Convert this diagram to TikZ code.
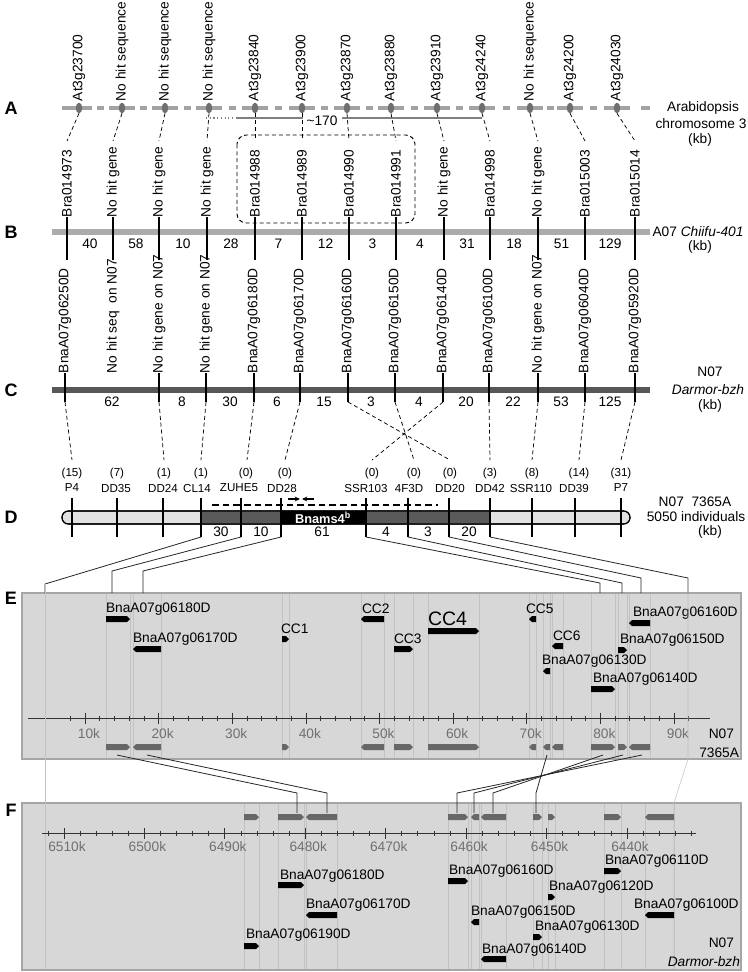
\documentclass[tikz,border=0pt]{standalone}
\usepackage{fontspec}
\setmainfont{Liberation Sans}
\usetikzlibrary{shapes.geometric,arrows.meta}
\definecolor{alinec}{HTML}{A3A3A3}
\definecolor{mkc}{HTML}{6E6E6E}
\definecolor{bbarc}{HTML}{ABABAB}
\definecolor{cbarc}{HTML}{575757}
\definecolor{dlight}{HTML}{E2E2E2}
\definecolor{ddark}{HTML}{5A5A5A}
\definecolor{panelc}{HTML}{D7D7D7}
\definecolor{paneledge}{HTML}{A6A6A6}
\definecolor{gblock}{HTML}{676767}
\definecolor{ticklab}{HTML}{707070}
\definecolor{faint}{HTML}{C2C2C2}
\newcommand{\gbR}[4]{\fill[#4] (#1,#3-3) -- (#2-3,#3-3) -- (#2,#3) -- (#2-3,#3+3) -- (#1,#3+3) -- cycle;}
\newcommand{\gbL}[4]{\fill[#4] (#1+3,#3-3) -- (#2,#3-3) -- (#2,#3+3) -- (#1+3,#3+3) -- (#1,#3) -- cycle;}
\begin{document}
\begin{tikzpicture}[x=0.75pt,y=-0.75pt,
  every node/.style={inner sep=0pt,outer sep=0pt},
  lab/.style={font=\fontsize{10.3}{12}\selectfont},
  rlab/.style={lab,rotate=90,anchor=west},
  sml/.style={font=\fontsize{8.7}{10}\selectfont},
  panlet/.style={font=\fontsize{13.5}{15}\selectfont\bfseries},
  mk/.style={ellipse,fill=mkc,minimum width=4.8pt,minimum height=8pt},
  dsh/.style={dash pattern=on 3pt off 2.2pt,line width=0.55pt},
  tk/.style={line width=1.1pt},
  conn/.style={line width=0.6pt,black!85},
  fline/.style={line width=0.4pt,faint},
  glab/.style={lab,anchor=west},
  axl/.style={lab,text=ticklab},
]
\useasboundingbox (0,0) rectangle (747,972);

% ---------- panel letters
\node[panlet] (pA) at (11,108) {A};
\node[panlet] (pB) at (11,232) {B};
\node[panlet] (pC) at (11,390) {C};
\node[panlet] (pD) at (11,517) {D};
\node[panlet] (pE) at (11,598) {E};
\node[panlet] (pF) at (11,810) {F};

% ---------- row A line (dash-dot)
\draw[alinec,line width=3pt] (62,108) -- (92,108);
\foreach \x in {122,165,209,255,302,347,391,437,482,530,570,617}
  \draw[alinec,line width=3pt] (\x-13,108) -- (\x+13,108);
\foreach \x in {100.5,143.5,187,232,278.5,324.5,369,414,459.5,506,550,593.5}
  \draw[alinec,line width=3pt] (\x-3.5,108) -- (\x+3.5,108);
\draw[alinec,line width=3pt] (641,108) -- (650,108);

% ---------- ~170 line
\coordinate (r1) at (206,118);
\coordinate (r2) at (237,118);
\coordinate (r3) at (303,118);
\coordinate (r4) at (342,118);
\coordinate (r5) at (482,118);
\node[lab] (t170) at (322,121) {\textasciitilde170};
\draw[gray,line width=0.8pt,dotted] (r1) -- (r2);
\draw[gray,line width=0.8pt] (r2) -- (r3);
\draw[gray,line width=0.8pt] (r4) -- (r5);

% ---------- B bar (under ticks)
\coordinate (bl) at (52,232);
\coordinate (br) at (650,232);
\draw[bbarc,line width=5pt] (bl) -- (br);

% ---------- markers, labels A and B, dashed links
\foreach \i/\xa/\xb/\ta/\tb in {
1/79/67/At3g23700/Bra014973,
2/122/113/No hit sequence/No hit gene,
3/165/159/No hit sequence/No hit gene,
4/209/207/No hit sequence/No hit gene,
5/255/255/At3g23840/Bra014988,
6/302/302/At3g23900/Bra014989,
7/347/349/At3g23870/Bra014990,
8/391/396/At3g23880/Bra014991,
9/437/444/At3g23910/No hit gene,
10/482/490/At3g24240/Bra014998,
11/530/538/No hit sequence/No hit gene,
12/570/585/At3g24200/Bra015003,
13/617/635/At3g24030/Bra015014}{
  \node[mk] (am\i) at (\xa,108) {};
  \node[rlab] (la\i) at (\xa,101) {\ta};
  \node[rlab] (lb\i) at (\xb,217) {\tb};
  \coordinate (bt\i) at (\xb,141);
  \coordinate (bb\i) at (\xb,260);
  \draw[dsh] (am\i.south) -- (bt\i);
  \draw[tk] (lb\i.west) -- (bb\i);
}
\draw[dsh,line width=0.7pt,rounded corners=7pt] (237,135) rectangle (415,223);

\node[lab] (ra1) at (703,108) {Arabidopsis};
\node[lab] (ra2) at (701,124) {chromosome 3};
\node[lab] (ra3) at (700,140) {(kb)};

\foreach \x/\n in {90/40,136/58,183/10,231/28,278.5/7,325.5/12,372.5/3,420/4,467/31,514/18,561.5/51,610/129}
  \node[lab] (bn\n x\x) at (\x,244) {\n};
\node[lab] (rb1) at (698,232) {A07 \textit{Chiifu-401}};
\node[lab] (rb2) at (700,247) {(kb)};

% ---------- C row
\coordinate (cl) at (52,390);
\coordinate (cr) at (650,390);
\draw[cbarc,line width=5.2pt] (cl) -- (cr);
\node[rlab] (lc2) at (113,373) {No hit seq\ \ on N07};
\foreach \i/\x/\t/\xd in {
1/65/BnaA07g06250D/72,
3/159/No hit gene on N07/164,
4/206/No hit gene on N07/201,
5/254/BnaA07g06180D/247,
6/300/BnaA07g06170D/285,
7/348/BnaA07g06160D/450,
8/395/BnaA07g06150D/414,
9/443/BnaA07g06140D/372,
10/489/BnaA07g06100D/490,
11/538/No hit gene on N07/532,
12/585/BnaA07g06040D/579,
13/635/BnaA07g05920D/621}{
  \node[rlab] (lc\i) at (\x,373) {\t};
  \coordinate (cb\i) at (\x,402);
  \coordinate (dq\i) at (\xd,460);
  \draw[tk] (lc\i.west) -- (cb\i);
  \draw[dsh] (cb\i) -- (dq\i);
}
\foreach \x/\n in {112/62,182/8,230/30,277/6,324/15,371/3,419/4,466/20,513/22,561/53,610/125}
  \node[lab] (cn\n x\x) at (\x,402) {\n};
\node[lab] (rc1) at (710,372) {N07};
\node[lab] (rc2) at (708,390) {\textit{Darmor-bzh}};
\node[lab] (rc3) at (710,406) {(kb)};

% ---------- D row
\draw[line width=0.8pt,fill=dlight,rounded corners=4.8pt] (62,511) rectangle (630,524);
\fill[ddark] (201,511.4) rectangle (490,523.6);
\fill[black] (281,511.4) rectangle (366,523.6);
\draw[line width=0.8pt,rounded corners=4.8pt] (62,511) rectangle (630,524);
\node[font=\fontsize{9.6}{11}\selectfont\bfseries,text=white] (bnams) at (323,517.5) {Bnams4\textsuperscript{b}};
\coordinate (dl1) at (212,505);
\coordinate (dl2) at (438,505);
\draw[dash pattern=on 5pt off 3pt,line width=0.85pt] (dl1) -- (dl2);
\coordinate (p1a) at (288,499);
\coordinate (p1b) at (300,499);
\coordinate (p2a) at (314,499);
\coordinate (p2b) at (302,499);
\draw[-{Stealth[length=4pt,width=3.6pt]},line width=0.8pt] (p1a) -- (p1b);
\draw[-{Stealth[length=4pt,width=3.6pt]},line width=0.8pt] (p2a) -- (p2b);

\foreach \i/\c/\nm/\xc/\xn/\xt in {
1/(15)/P4/72/72/72,
2/(7)/DD35/117/116/117,
3/(1)/DD24/164/163/163,
4/(1)/CL14/201/197/201,
5/(0)/ZUHE5/246/239/241,
6/(0)/DD28/285/282/281,
7/(0)/SSR103/372/366/366,
8/(0)/4F3D/414/409/408,
9/(0)/DD20/450/450/449,
10/(3)/DD42/490/490/490,
11/(8)/SSR110/532/531/532,
12/(14)/DD39/579/574/575,
13/(31)/P7/621/621/621}{
  \node[sml] (dc\i) at (\xc,473) {\c};
  \node[sml] (dn\i) at (\xn,488) {\nm};
  \coordinate (dt\i) at (\xt,498);
  \coordinate (db\i) at (\xt,537);
  \draw[tk] (dt\i) -- (db\i);
}
\foreach \x/\n in {221/30,261/10,322/61,386/4,428/3,469/20}
  \node[lab] (dnum\n x\x) at (\x,532) {\n};
\node[lab] (rd1) at (695,502) {N07\ \ 7365A};
\node[lab] (rd2) at (696,517) {5050 individuals};
\node[lab] (rd3) at (710,532) {(kb)};

% ---------- E panel
\draw[fill=panelc,draw=paneledge,line width=1pt] (22,593) rectangle (741,759);
\foreach \x in {106,130,133,161,282,289,361,384,394,413,428,479,529,536,543,550,552,563,591,615,618,627,629,650}
  \draw[fline] (\x,594) -- (\x,758);

% D -> E connectors
\foreach \i/\xe/\ye in {4/45/584,5/112/571,6/143/571,7/600/583,8/622/583,9/641/578,10/688/578}{
  \coordinate (eb\i) at (\xe,\ye);
  \coordinate (et\i) at (\xe,593);
  \draw[conn] (db\i) -- (eb\i) -- (et\i);
}

% E axis
\draw[black!80,line width=0.7pt] (28,718) -- (710,718);
\foreach \k in {4,...,46}{
  \pgfmathsetmacro\xx{11.4+14.725*\k}
  \draw[black!80,line width=0.6pt] (\xx,715.5) -- (\xx,720.5);
}
\foreach \m in {1,...,9}{
  \pgfmathsetmacro\xx{11.4+73.625*\m}
  \draw[black!80,line width=0.6pt] (\xx,712.5) -- (\xx,723.5);
  \node[axl] (ex\m) at (\xx+4,734) {\m0k};
}
\node[lab,anchor=east] (re1) at (734,734) {N07};
\node[lab,anchor=east] (re2) at (739,753) {7365A};

% E gray blocks
\gbR{106}{130}{747}{gblock}
\gbL{133}{161}{747}{gblock}
\gbR{282}{289}{747}{gblock}
\gbL{361}{384}{747}{gblock}
\gbR{394}{413}{747}{gblock}
\gbR{428}{479}{747}{gblock}
\gbL{529}{536}{747}{gblock}
\gbL{543}{550}{747}{gblock}
\gbL{552}{563}{747}{gblock}
\gbR{591}{615}{747}{gblock}
\gbR{618}{627}{747}{gblock}
\gbL{629}{650}{747}{gblock}

% E black blocks + labels
\gbR{106}{130}{619}{black}
\gbL{133}{161}{649}{black}
\gbR{282}{289}{639}{black}
\gbL{361}{384}{619}{black}
\gbR{394}{413}{649}{black}
\gbR{428}{479}{631}{black}
\gbL{529}{536}{619}{black}
\gbL{552}{563}{646}{black}
\gbL{543}{550}{671}{black}
\gbR{591}{615}{689}{black}
\gbL{629}{650}{623}{black}
\gbR{618}{627}{650}{black}
\node[glab] (eg1) at (106,609) {BnaA07g06180D};
\node[glab] (eg2) at (133,639) {BnaA07g06170D};
\node[glab] (eg3) at (281,629) {CC1};
\node[glab] (eg4) at (362,609) {CC2};
\node[glab] (eg5) at (394,639) {CC3};
\node[anchor=west,font=\fontsize{14.6}{16}\selectfont] (eg6) at (428,619) {CC4};
\node[glab] (eg7) at (526,609) {CC5};
\node[glab] (eg8) at (553,636) {CC6};
\node[glab] (eg9) at (542,661) {BnaA07g06130D};
\node[glab] (eg10) at (593,679) {BnaA07g06140D};
\node[glab] (eg11) at (633,613) {BnaA07g06160D};
\node[glab] (eg12) at (620,640) {BnaA07g06150D};

% ---------- F panel
\draw[fill=panelc,draw=paneledge,line width=1pt] (22,803) rectangle (741,970);
\foreach \x in {244,259,278,304,306,337,448,468,471,479,481,506,533,542,548,555,604,621,645,674}
  \draw[fline] (\x,804) -- (\x,969);

% faint long lines
\coordinate (fa1) at (45,584);
\coordinate (fa2) at (45,969);
\draw[fline] (fa1) -- (fa2);
\coordinate (fb1) at (688,578);
\coordinate (fb2) at (688,759);
\coordinate (fb3) at (674,803);
\coordinate (fb4) at (674,969);
\draw[fline] (fb1) -- (fb2) -- (fb3) -- (fb4);

% F axis
\draw[black!80,line width=0.7pt] (42,833) -- (696,833);
\foreach \j in {0,...,40}{
  \pgfmathsetmacro\xx{47.9+16.086*\j}
  \draw[black!80,line width=0.6pt] (\xx,830.5) -- (\xx,835.5);
}
\foreach \m/\v in {0/6510,1/6500,2/6490,3/6480,4/6470,5/6460,6/6450,7/6440}{
  \pgfmathsetmacro\xx{64+80.43*\m}
  \draw[black!80,line width=0.6pt] (\xx,827.5) -- (\xx,838.5);
  \node[axl] (fx\m) at (\xx+3,847) {\v k};
}

% F gray blocks
\gbR{244}{259}{817}{gblock}
\gbR{278}{304}{817}{gblock}
\gbL{306}{337}{817}{gblock}
\gbR{448}{468}{817}{gblock}
\gbL{471}{479}{817}{gblock}
\gbL{481}{506}{817}{gblock}
\gbR{533}{542}{817}{gblock}
\gbR{548}{555}{817}{gblock}
\gbR{604}{621}{817}{gblock}
\gbL{645}{674}{817}{gblock}

% E -> F connectors
\foreach \i/\xa/\xb in {1/117/297,2/147/327,3/603/493,4/623/474,5/642/457,6/547/536}{
  \coordinate (ea\i) at (\xa,755);
  \coordinate (fk\i) at (\xb,793);
  \coordinate (ff\i) at (\xb,813);
  \draw[conn] (ea\i) -- (fk\i) -- (ff\i);
}

% F black blocks + labels
\gbR{278}{304}{885}{black}
\gbL{306}{337}{915}{black}
\gbR{244}{259}{946}{black}
\gbR{448}{468}{881}{black}
\gbL{471}{479}{922}{black}
\gbL{481}{506}{959}{black}
\gbR{548}{555}{897}{black}
\gbR{533}{542}{937}{black}
\gbR{604}{621}{871}{black}
\gbL{645}{674}{915}{black}
\node[glab] (fg1) at (280,876) {BnaA07g06180D};
\node[glab] (fg2) at (306,905) {BnaA07g06170D};
\node[glab] (fg3) at (246,935) {BnaA07g06190D};
\node[glab] (fg4) at (449,871) {BnaA07g06160D};
\node[glab] (fg5) at (471,912) {BnaA07g06150D};
\node[glab] (fg6) at (482,950) {BnaA07g06140D};
\node[glab] (fg7) at (549,887) {BnaA07g06120D};
\node[glab] (fg8) at (535,927) {BnaA07g06130D};
\node[glab] (fg9) at (605,861) {BnaA07g06110D};
\node[glab] (fg10) at (634,905) {BnaA07g06100D};
\node[lab,anchor=east] (rf1) at (734,943) {N07};
\node[lab,anchor=east] (rf2) at (740,962) {\textit{Darmor-bzh}};
\end{tikzpicture}
\end{document}
